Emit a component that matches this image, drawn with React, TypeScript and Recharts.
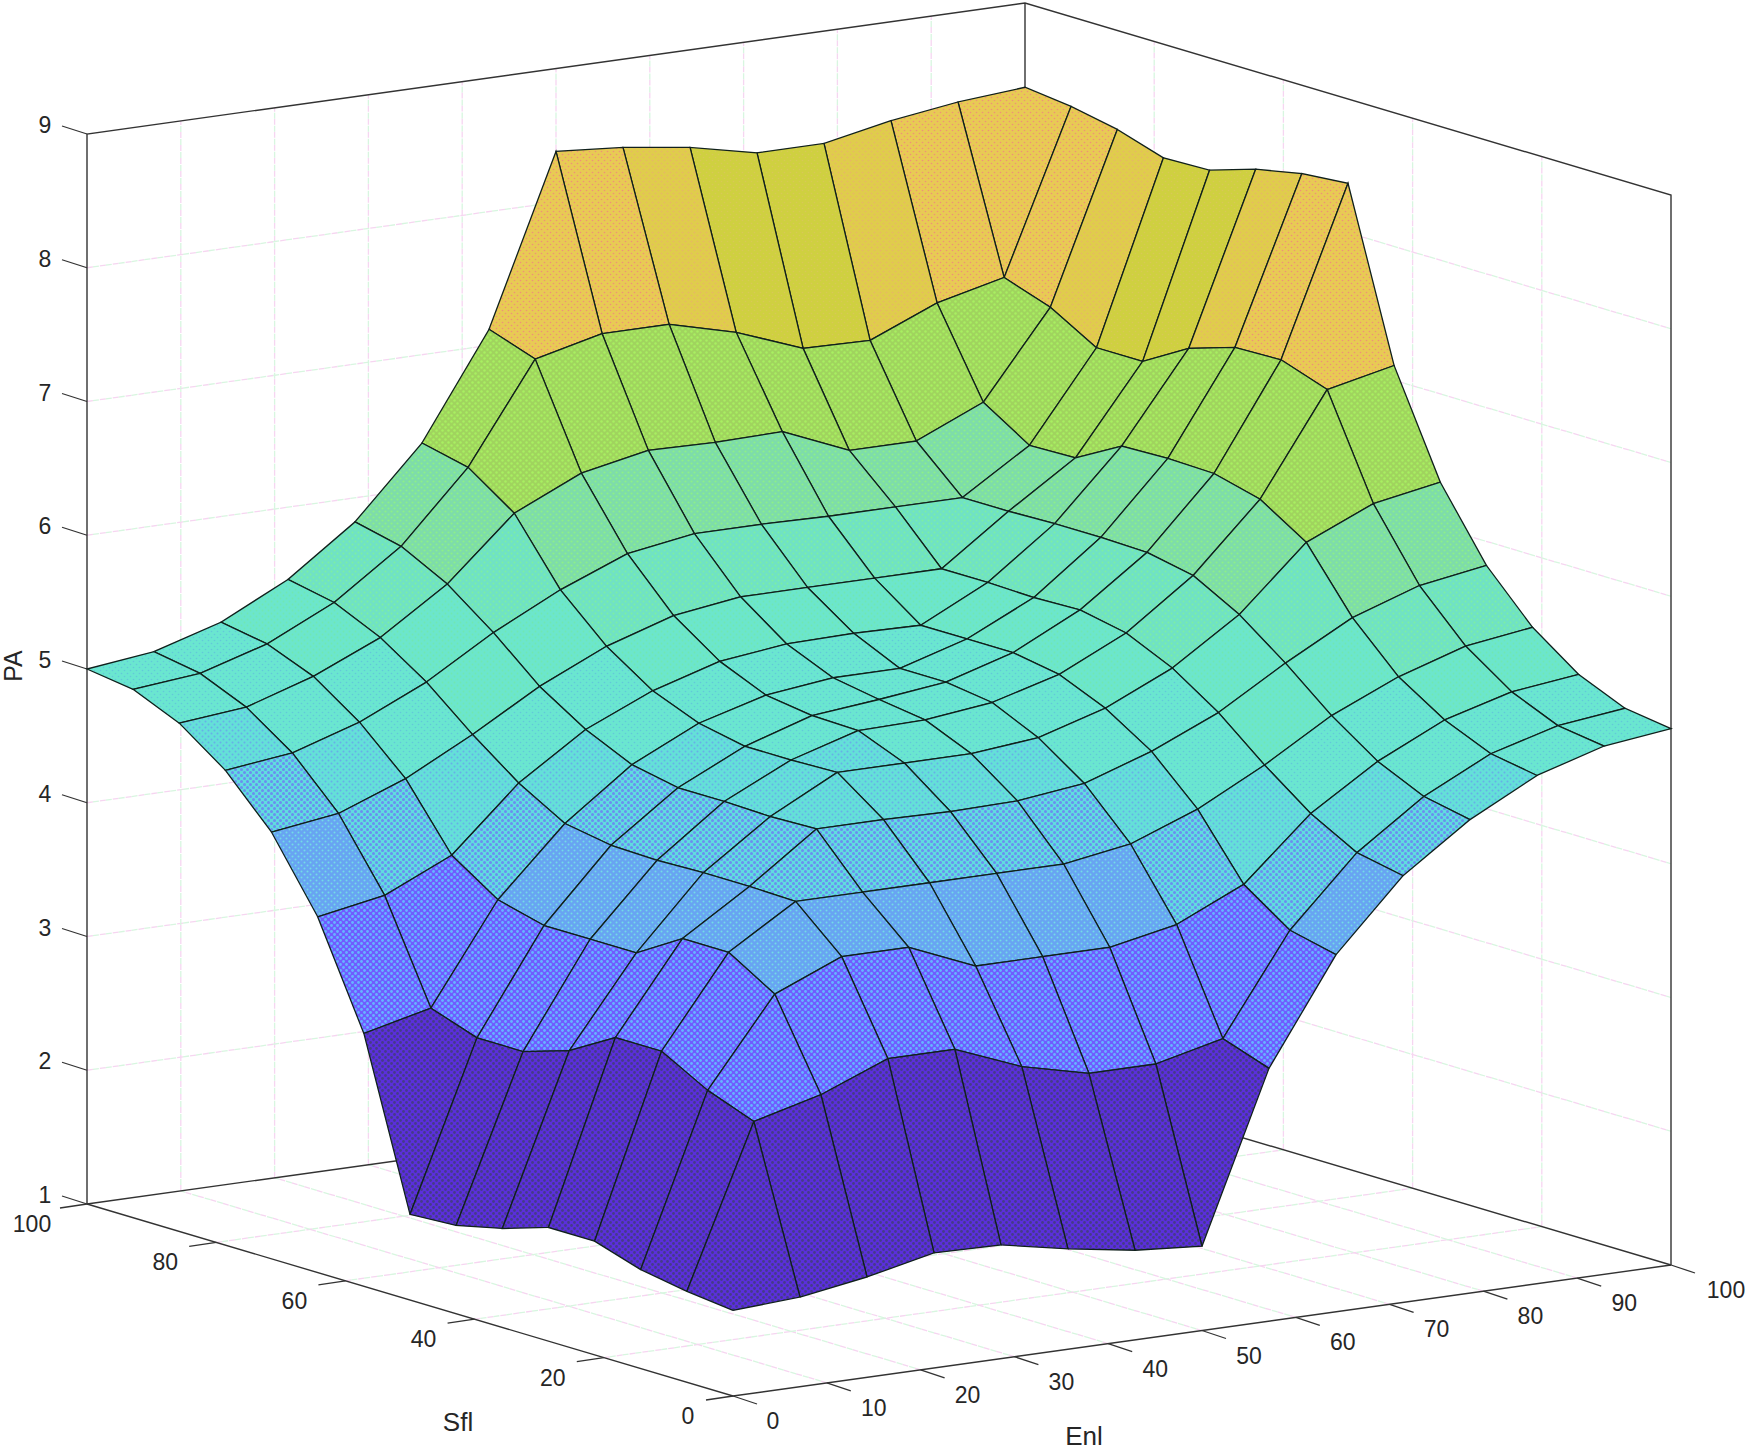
import { ScatterChart, Scatter, XAxis, YAxis } from 'recharts';

const WIDTH = 1749;
const HEIGHT = 1451;

// Surface grid. One row per Enl value, one PA value per Sfl value.
const enlValues = [0, 7.14, 14.29, 21.43, 28.57, 35.71, 42.86, 50, 57.14, 64.29, 71.43, 78.57, 85.71, 92.86, 100];
const sflValues = [0, 7.14, 14.29, 21.43, 28.57, 35.71, 42.86, 50, 57.14, 64.29, 71.43, 78.57, 85.71, 92.86, 100];
const paValues = [
  [1.64, 1.68, 1.74, 1.85, 1.85, 1.74, 1.66, 1.64, 2.89, 3.66, 4.19, 4.55, 4.8, 4.95, 5.0],
  [1.67, 2.88, 3.01, 3.2, 3.2, 3.0, 2.89, 2.89, 3.01, 3.75, 4.26, 4.61, 4.85, 5.0, 5.06],
  [1.75, 3.01, 3.66, 3.87, 3.87, 3.66, 3.66, 3.66, 3.75, 3.98, 4.45, 4.77, 5.01, 5.15, 5.21],
  [1.86, 3.21, 3.87, 4.18, 4.19, 4.19, 4.18, 4.19, 4.25, 4.45, 4.71, 5.0, 5.23, 5.39, 5.46],
  [1.85, 3.21, 3.87, 4.18, 4.55, 4.54, 4.55, 4.55, 4.62, 4.78, 5.0, 5.3, 5.56, 5.74, 5.82],
  [1.75, 3.01, 3.66, 4.18, 4.55, 4.8, 4.79, 4.79, 4.86, 5.0, 5.23, 5.55, 6.02, 6.26, 6.34],
  [1.67, 2.89, 3.66, 4.18, 4.54, 4.8, 4.94, 4.95, 5.0, 5.15, 5.39, 5.75, 6.25, 7.0, 7.12],
  [1.63, 2.89, 3.66, 4.18, 4.55, 4.8, 4.95, 5.0, 5.06, 5.21, 5.46, 5.83, 6.35, 7.12, 8.38],
  [2.89, 3.01, 3.76, 4.26, 4.61, 4.85, 5.01, 5.06, 5.06, 5.22, 5.46, 5.83, 6.34, 7.12, 8.34],
  [3.67, 3.75, 3.99, 4.45, 4.78, 5.0, 5.15, 5.21, 5.21, 5.21, 5.46, 5.82, 6.35, 6.99, 8.27],
  [4.19, 4.26, 4.45, 4.71, 5.0, 5.23, 5.39, 5.46, 5.45, 5.46, 5.46, 5.82, 6.14, 6.8, 8.16],
  [4.54, 4.61, 4.77, 5.01, 5.3, 5.56, 5.75, 5.82, 5.83, 5.83, 5.82, 5.82, 6.14, 6.79, 8.16],
  [4.8, 4.86, 5.01, 5.23, 5.57, 6.03, 6.25, 6.34, 6.35, 6.34, 6.15, 6.14, 6.36, 7.0, 8.26],
  [4.95, 5.0, 5.15, 5.39, 5.74, 6.25, 7.0, 7.12, 7.11, 7.0, 6.8, 6.8, 7.0, 7.12, 8.33],
  [5.01, 5.06, 5.21, 5.46, 5.82, 6.34, 7.11, 8.37, 8.34, 8.27, 8.16, 8.15, 8.26, 8.33, 8.37],
];

const paTicks = [1, 2, 3, 4, 5, 6, 7, 8, 9];
const sflTicks = [0, 20, 40, 60, 80, 100];
const enlTicks = [0, 10, 20, 30, 40, 50, 60, 70, 80, 90, 100];

// colormap stops: PA value, flat colour, halftone dot colour, dot radius
const colorStops: [number, string, string, number][] = [
  [3.0, '#5b2fdc', '#453a8a', 1.4],
  [3.8, '#6f5cff', '#66b4ff', 1.4],
  [4.2, '#68a4f2', '#72dce6', 1.0],
  [4.5, '#60dcdf', '#6a8ef0', 1.5],
  [4.8, '#64e0d8', '#66b0e8', 1.0],
  [5.1, '#6ae6d0', '#62c8da', 0.8],
  [5.4, '#6ce6cc', '#70e8b0', 0.9],
  [5.8, '#70e2c4', '#7cf0a0', 1.0],
  [6.3, '#7edcaa', '#8cf088', 1.1],
  [7.1, '#a0d45e', '#a8f060', 1.2],
  [8.16, '#cfd040', '#d8c858', 0.8],
  [8.27, '#e0cc4c', '#e8b468', 0.8],
  [8.36, '#e8ca54', '#f09078', 0.8],
];

// orthographic view of the box
const FRONT = { x: 733, y: 1396 };
const PER_ENL = { x: 9.38, y: -1.31 };
const PER_SFL = { x: -6.46, y: -1.92 };
const PER_PA = 133.75;

const project = (enl: number, sfl: number, pa: number) => ({
  x: FRONT.x + enl * PER_ENL.x + sfl * PER_SFL.x,
  y: FRONT.y + enl * PER_ENL.y + sfl * PER_SFL.y - (pa - 1) * PER_PA,
});

const stopIndex = (pa: number) => {
  let best = 0;
  colorStops.forEach((s, k) => {
    if (Math.abs(s[0] - pa) < Math.abs(colorStops[best][0] - pa)) best = k;
  });
  return best;
};

// painter's order: far corner first
const quads: { key: string; points: { x: number; y: number }[]; fill: string }[] = [];
for (let i = enlValues.length - 2; i >= 0; i--) {
  for (let j = sflValues.length - 2; j >= 0; j--) {
    const a = project(enlValues[i], sflValues[j], paValues[i][j]);
    const b = project(enlValues[i + 1], sflValues[j], paValues[i + 1][j]);
    const c = project(enlValues[i + 1], sflValues[j + 1], paValues[i + 1][j + 1]);
    const d = project(enlValues[i], sflValues[j + 1], paValues[i][j + 1]);
    quads.push({
      key: `q-${i}-${j}`,
      points: [a, b, c, d, a],
      fill: `url(#halftone-${stopIndex(paValues[i + 1][j + 1])})`,
    });
  }
}

const wallEnl = enlTicks.slice(1, -1);
const wallSfl = sflTicks.slice(1, -1);
const wallPa = paTicks.slice(1, -1);

const gridLines = [
  ...wallEnl.map((e) => [project(e, 100, 1), project(e, 100, 9)]),
  ...wallSfl.map((s) => [project(100, s, 1), project(100, s, 9)]),
  ...wallPa.map((p) => [project(0, 100, p), project(100, 100, p)]),
  ...wallPa.map((p) => [project(100, 100, p), project(100, 0, p)]),
  ...wallEnl.map((e) => [project(e, 0, 1), project(e, 100, 1)]),
  ...wallSfl.map((s) => [project(0, s, 1), project(100, s, 1)]),
];

const boxLines = [
  [project(0, 100, 1), project(0, 100, 9), project(100, 100, 9), project(100, 0, 9), project(100, 0, 1)],
  [project(100, 100, 1), project(100, 100, 9)],
  [project(0, 100, 1), project(100, 100, 1), project(100, 0, 1)],
  [project(0, 100, 1), project(0, 0, 1), project(100, 0, 1)],
];

const tickMarks = [
  ...paTicks.map((p) => {
    const o = project(0, 100, p);
    return [o, { x: o.x - 25, y: o.y - 8 }];
  }),
  ...sflTicks.map((s) => {
    const o = project(0, s, 1);
    return [o, { x: o.x - 27, y: o.y + 4 }];
  }),
  ...enlTicks.map((e) => {
    const o = project(e, 0, 1);
    return [o, { x: o.x + 24, y: o.y + 8 }];
  }),
];

const tickLabels = [
  ...paTicks.map((p) => {
    const o = project(0, 100, p);
    return { ...o, x: o.x - 42, y: o.y - 9, text: String(p), size: 23 };
  }),
  ...sflTicks.map((s) => {
    const o = project(0, s, 1);
    return { ...o, x: o.x - (s === 0 ? 45 : s === 100 ? 55 : 51), y: o.y + 20, text: String(s), size: 23 };
  }),
  ...enlTicks.map((e) => {
    const o = project(e, 0, 1);
    return { ...o, x: o.x + (e === 0 ? 40 : e === 100 ? 55 : 47), y: o.y + 25, text: String(e), size: 23 };
  }),
  { x: 458, y: 1422, text: 'Sfl', size: 26 },
  { x: 1084, y: 1436, text: 'Enl', size: 26 },
];
const paTitle = [{ x: 13, y: 666, text: 'PA' }];

const noMark = () => <g />;

const TextMark = (props: any) => (
  <text
    x={props.cx}
    y={props.cy}
    textAnchor="middle"
    dominantBaseline="central"
    fontFamily="Liberation Sans"
    fontSize={props.payload.size}
    fill="#262626"
  >
    {props.payload.text}
  </text>
);

const RotatedTextMark = (props: any) => (
  <text
    x={props.cx}
    y={props.cy}
    textAnchor="middle"
    dominantBaseline="central"
    fontFamily="Liberation Sans"
    fontSize={25}
    fill="#262626"
    transform={`rotate(-90 ${props.cx} ${props.cy})`}
  >
    {props.payload.text}
  </text>
);

export default function App() {
  return (
    <div style={{ position: 'absolute', left: 0, top: 0, width: WIDTH, height: HEIGHT, background: '#fff' }}>
      <ScatterChart width={WIDTH} height={HEIGHT} margin={{ top: 0, right: 0, bottom: 0, left: 0 }}>
        <defs>
          {colorStops.map(([, flat, dot, r], k) => (
            <pattern key={k} id={`halftone-${k}`} width={6} height={6} patternUnits="userSpaceOnUse">
              <rect width={6} height={6} fill={flat} />
              <circle cx={1.5} cy={1.5} r={r} fill={dot} />
              <circle cx={4.5} cy={4.5} r={r} fill={dot} />
            </pattern>
          ))}
        </defs>
        <XAxis type="number" dataKey="x" domain={[0, WIDTH]} hide />
        <YAxis type="number" dataKey="y" domain={[0, HEIGHT]} reversed hide />

        {gridLines.map((pts, k) => (
          <Scatter
            key={`gp-${k}`}
            data={pts}
            shape={noMark}
            isAnimationActive={false}
            line={{ stroke: '#f6d6f1', strokeWidth: 1.3, strokeDasharray: '6 7', fill: 'none' }}
          />
        ))}
        {gridLines.map((pts, k) => (
          <Scatter
            key={`gg-${k}`}
            data={pts}
            shape={noMark}
            isAnimationActive={false}
            line={{ stroke: '#d8f6e0', strokeWidth: 1.3, strokeDasharray: '6 7', strokeDashoffset: 7, fill: 'none' }}
          />
        ))}
        {boxLines.map((pts, k) => (
          <Scatter
            key={`box-${k}`}
            data={pts}
            shape={noMark}
            isAnimationActive={false}
            line={{ stroke: '#333333', strokeWidth: 1.4, fill: 'none' }}
          />
        ))}
        {tickMarks.map((pts, k) => (
          <Scatter
            key={`tick-${k}`}
            data={pts}
            shape={noMark}
            isAnimationActive={false}
            line={{ stroke: '#333333', strokeWidth: 1.3, fill: 'none' }}
          />
        ))}
        {quads.map((q) => (
          <Scatter
            key={q.key}
            data={q.points}
            shape={noMark}
            isAnimationActive={false}
            line={{ stroke: '#10201c', strokeWidth: 1.3, fill: q.fill }}
          />
        ))}
        <Scatter data={tickLabels} shape={TextMark} isAnimationActive={false} />
        <Scatter data={paTitle} shape={RotatedTextMark} isAnimationActive={false} />
      </ScatterChart>
    </div>
  );
}
